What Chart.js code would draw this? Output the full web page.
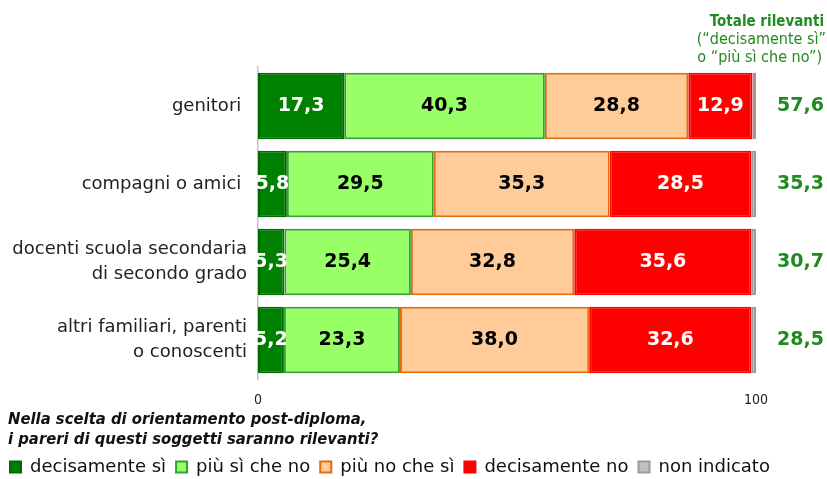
<!DOCTYPE html>
<html>
<head>
<meta charset="utf-8">
<script src="https://cdn.jsdelivr.net/npm/chart.js@4.4.1/dist/chart.umd.min.js"></script>
<style>
    html, body { margin: 0; padding: 0; background: #fff; }
</style>
</head>
<body>
<canvas id="chart" width="827" height="479"></canvas>
<script>
// data
const categories = [
    "genitori ",
    "compagni o amici ",
    ["docenti scuola secondaria", "di secondo grado"],
    ["altri familiari, parenti", "o conoscenti"]
];
const seriesNames = ["decisamente sì", "più sì che no", "più no che sì", "decisamente no", "non indicato"];
const decisamenteSi = [17.3, 5.8, 5.3, 5.2];
const piuSiCheNo = [40.3, 29.5, 25.4, 23.3];
const piuNoCheSi = [28.8, 35.3, 32.8, 38.0];
const decisamenteNo = [12.9, 28.5, 35.6, 32.6];
const nonIndicato = [0.7, 0.9, 0.9, 0.9];
const totaleRilevanti = [57.6, 35.3, 30.7, 28.5];
const xTickValues = [0, 100];

const fill = ["#008000", "#99ff66", "#ffcc99", "#ff0000", "#c0c0c0"];
const stroke = ["#006a00", "#35a035", "#e46c0a", "#ff0000", "#9a9a9a"];
const labelColor = ["#fff", "#000", "#000", "#fff", null];
const green = "#1f8b1f";

Chart.defaults.font.family = "'DejaVu Sans', sans-serif";
Chart.defaults.color = "#222";

function fmt(v) {
    return v.toFixed(1).replace(".", ",");
}

const allSeries = [decisamenteSi, piuSiCheNo, piuNoCheSi, decisamenteNo, nonIndicato];

const datasets = allSeries.map((values, i) => ({
    label: seriesNames[i],
    data: values,
    backgroundColor: fill[i],
    borderColor: stroke[i],
    borderWidth: 2,
    borderSkipped: false,
    categoryPercentage: 1,
    barPercentage: 0.85
}));

const extraText = {
    id: "extraText",
    afterDatasetsDraw(chart) {
        const ctx = chart.ctx;
        ctx.save();
        ctx.textBaseline = "middle";

        // values inside the segments
        ctx.textAlign = "center";
        ctx.font = "bold 19px 'DejaVu Sans'";
        chart.data.datasets.forEach((ds, i) => {
            if (!labelColor[i]) return;
            chart.getDatasetMeta(i).data.forEach((bar, j) => {
                const p = bar.getCenterPoint();
                ctx.fillStyle = labelColor[i];
                ctx.fillText(fmt(ds.data[j]), p.x, p.y);
            });
        });

        // totals column
        ctx.textAlign = "right";
        ctx.fillStyle = green;
        ctx.font = "bold 19px 'DejaVu Sans'";
        totaleRilevanti.forEach((v, j) => {
            ctx.fillText(fmt(v), 824, chart.scales.y.getPixelForValue(j));
        });

        ctx.font = "bold 15px 'DejaVu Sans Condensed'";
        ctx.fillText("Totale rilevanti", 824, 22);
        ctx.font = "16px 'DejaVu Sans Condensed'";
        ctx.fillText("(“decisamente sì”", 826, 40);
        ctx.fillText("o “più sì che no”)", 822, 58);

        // question under the chart
        ctx.textAlign = "left";
        ctx.fillStyle = "#111";
        ctx.font = "italic bold 16.5px 'DejaVu Sans Condensed'";
        ctx.fillText("Nella scelta di orientamento post-diploma,", 8, 420);
        ctx.fillText("i pareri di questi soggetti saranno rilevanti?", 8, 440);
        ctx.restore();
    }
};

new Chart(document.getElementById("chart"), {
    type: "bar",
    data: { labels: categories, datasets: datasets },
    options: {
        indexAxis: "y",
        responsive: false,
        animation: false,
        layout: { padding: { top: 67, right: 0, left: 0, bottom: -7 } },
        scales: {
            x: {
                stacked: true,
                min: 0,
                max: 100,
                grid: { display: false, drawTicks: false },
                border: { display: false },
                afterBuildTicks(scale) {
                    scale.ticks = xTickValues.map(v => ({ value: v }));
                },
                afterFit(scale) {
                    scale.height = 69;
                },
                ticks: {
                    font: { size: 14, family: "'DejaVu Sans Condensed'" },
                    color: "#222",
                    padding: 13,
                    maxRotation: 0
                }
            },
            y: {
                stacked: true,
                grid: { display: false, drawTicks: false },
                border: { display: true, color: "#c0c0c0", width: 1.5 },
                afterFit(scale) {
                    scale.width = 258;
                },
                ticks: {
                    font: { size: 18, lineHeight: 1.4 },
                    color: "#222",
                    padding: 11
                }
            },
            // empty axis on the right keeps room for the totals column
            yRight: {
                type: "category",
                position: "right",
                grid: { display: false, drawTicks: false },
                border: { display: false },
                ticks: { display: false },
                afterFit(scale) {
                    scale.width = 71;
                }
            }
        },
        plugins: {
            tooltip: { enabled: false },
            legend: {
                position: "bottom",
                align: "start",
                labels: {
                    boxWidth: 11,
                    boxHeight: 11,
                    padding: 10,
                    color: "#111",
                    font: { size: 18 }
                }
            }
        }
    },
    plugins: [extraText]
});
</script>
</body>
</html>
